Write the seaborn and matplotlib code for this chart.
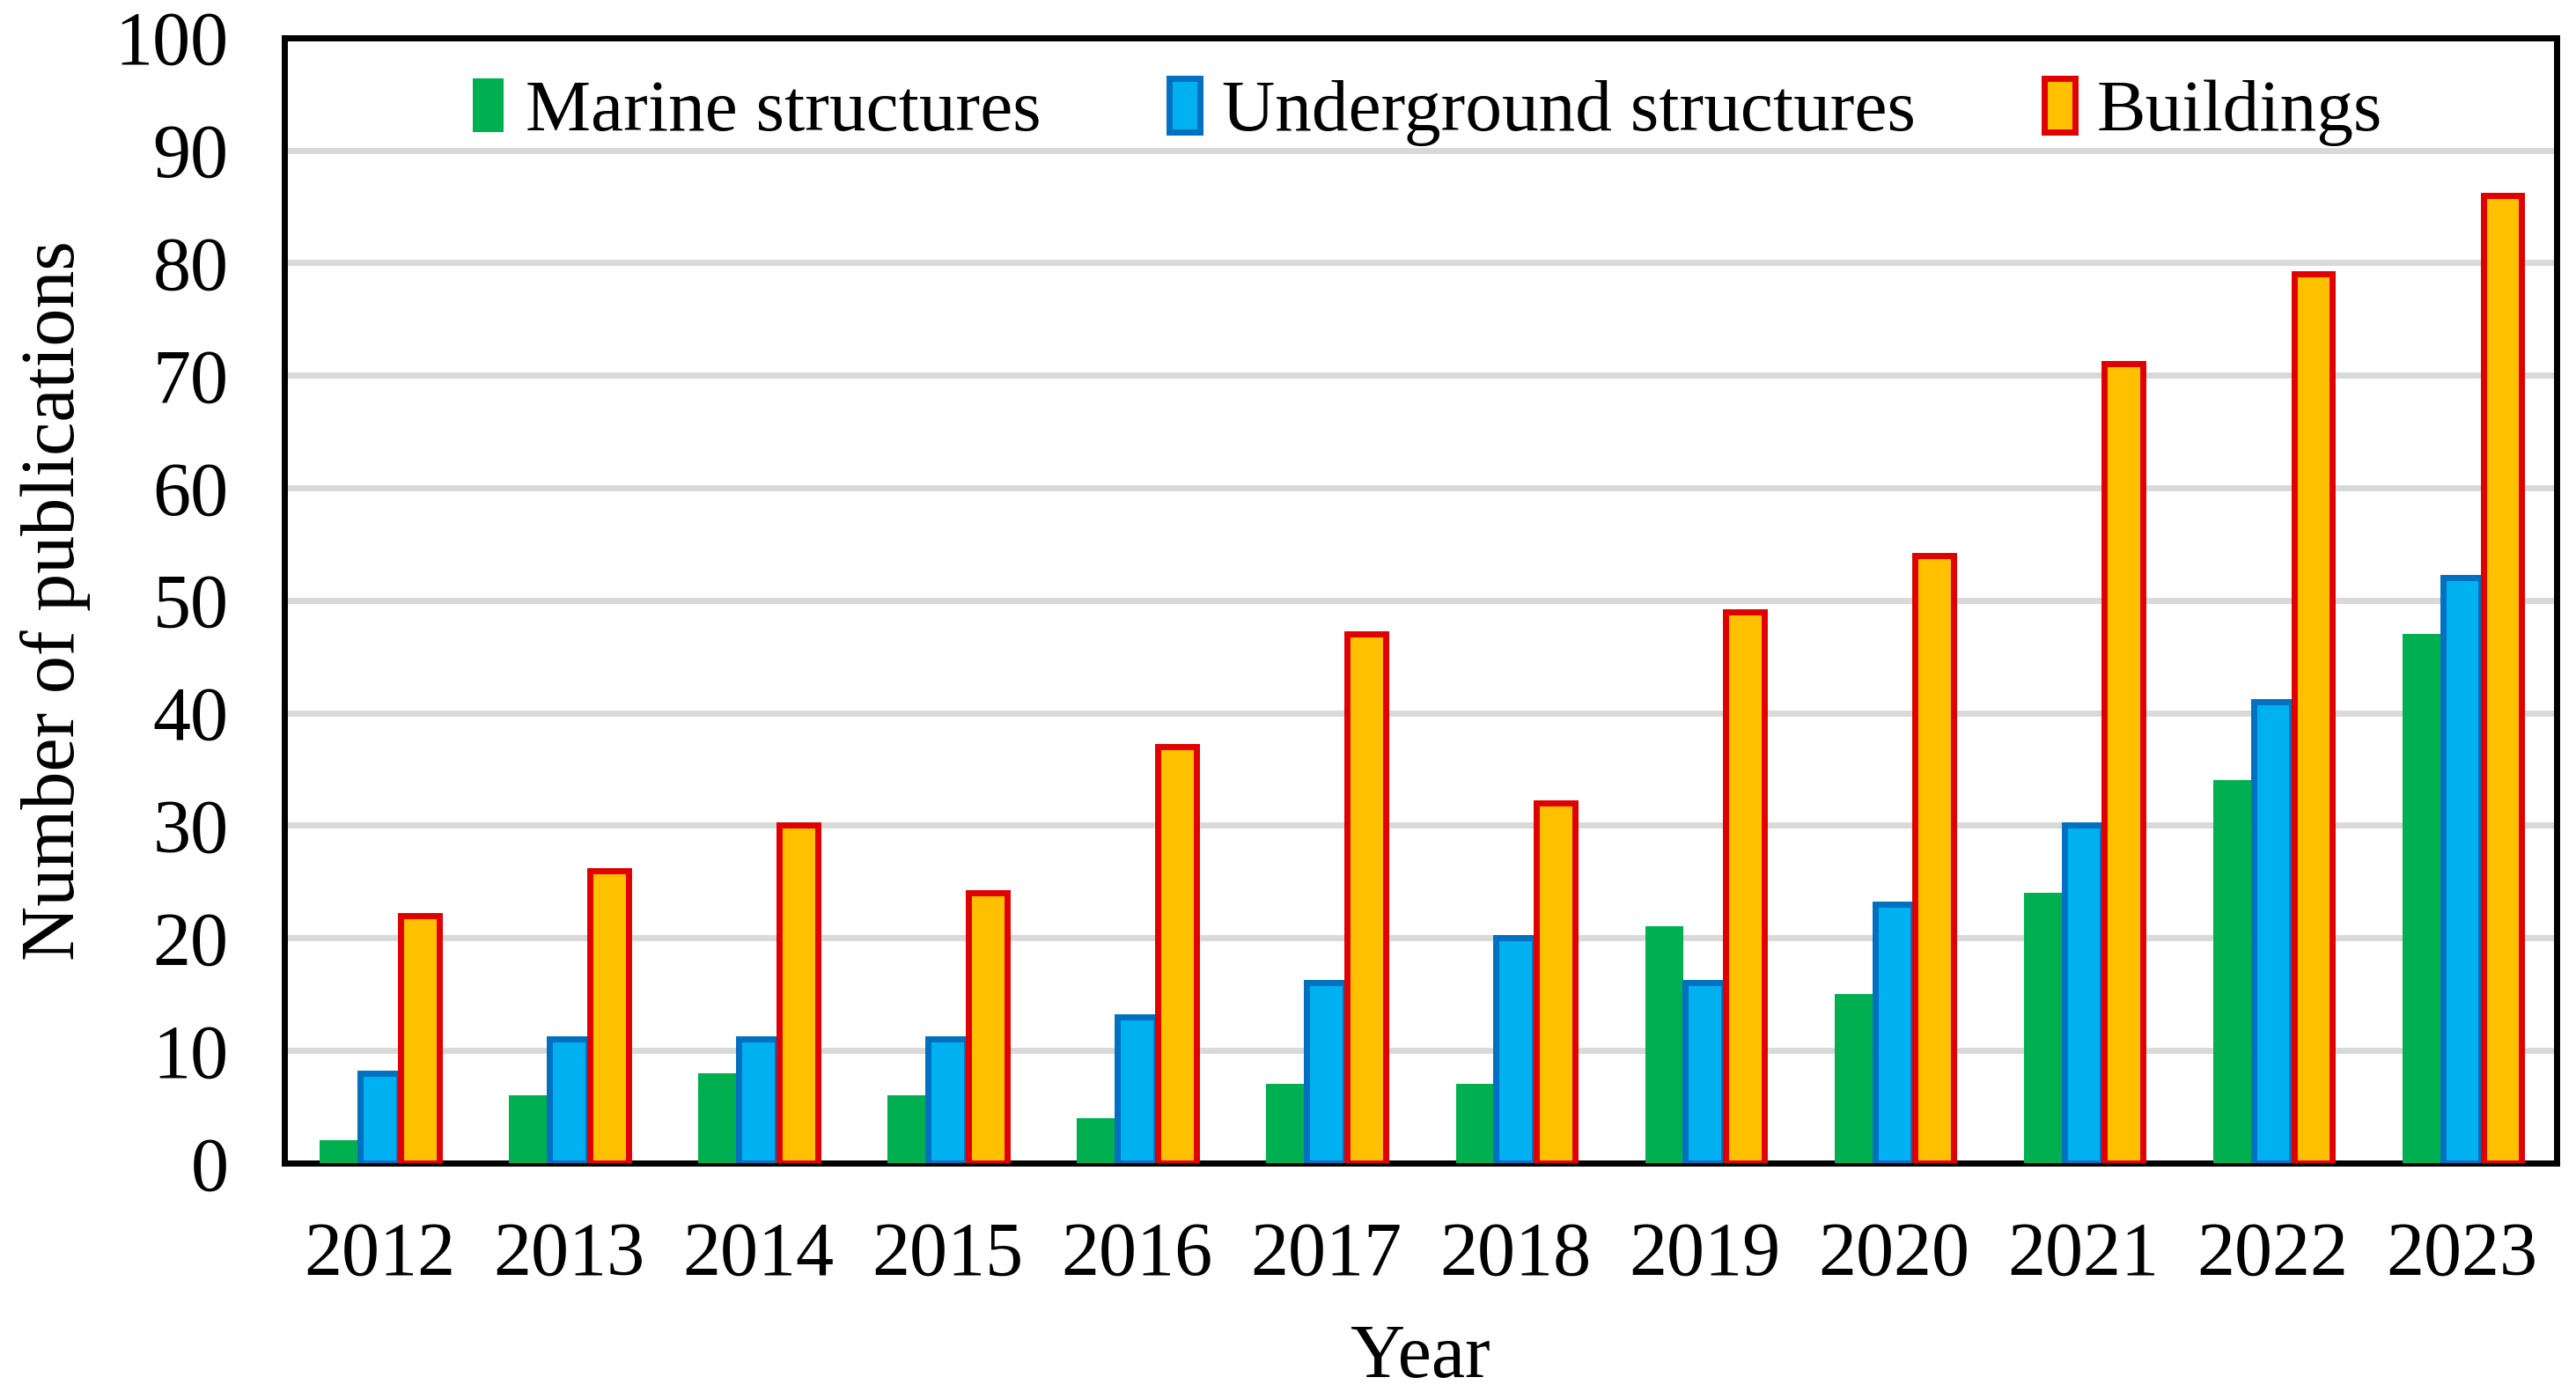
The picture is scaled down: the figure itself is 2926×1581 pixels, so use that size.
import numpy as np
import pandas as pd
import matplotlib
matplotlib.use('Agg')
import matplotlib.pyplot as plt
import seaborn as sns
from matplotlib.patches import Patch

years = ['2012', '2013', '2014', '2015', '2016', '2017', '2018', '2019', '2020', '2021', '2022', '2023']
marine = [2, 6, 8, 6, 4, 7, 7, 21, 15, 24, 34, 47]
underground = [8, 11, 11, 11, 13, 16, 20, 16, 23, 30, 41, 52]
buildings = [22, 26, 30, 24, 37, 47, 32, 49, 54, 71, 79, 86]
series = ['Marine structures', 'Underground structures', 'Buildings']

face = ['#00B050', '#00B0F0', '#FFC000']
edge = [None, '#0070C0', '#E00000']

data = pd.DataFrame({
    'Year': years * 3,
    'Count': marine + underground + buildings,
    'Type': [series[0]] * 12 + [series[1]] * 12 + [series[2]] * 12,
})

sns.set_style('white')
plt.rcParams['font.family'] = ['Liberation Serif', 'DejaVu Serif']
plt.rcParams['text.color'] = 'black'
plt.rcParams['axes.labelcolor'] = 'black'
plt.rcParams['xtick.color'] = 'black'
plt.rcParams['ytick.color'] = 'black'

fs = 62

fig = plt.figure(figsize=(29.26, 15.81), dpi=100)
ax = fig.add_axes([0.1105, 0.1645, 0.882, 0.8085])

sns.barplot(data=data, x='Year', y='Count', hue='Type', hue_order=series,
            palette=face, saturation=1, width=0.64, gap=0.05, ax=ax,
            legend=False, zorder=3)

for i, cont in enumerate(ax.containers):
    for bar in cont:
        if edge[i] is None:
            bar.set_linewidth(0)
        else:
            bar.set_edgecolor(edge[i])
            bar.set_linewidth(5)

ax.set_ylim(0, 100)
ax.set_xlim(-0.5, 11.5)
ax.set_yticks(range(0, 101, 10))
ax.yaxis.grid(True, color='#D9D9D9', linewidth=5, zorder=0)
ax.set_axisbelow(True)

# ticks between categories on x
ax.set_xticks(np.arange(0, 12))
ax.set_xticks(np.arange(0.5, 11.5, 1), minor=True)
ax.tick_params(axis='x', which='major', length=0, labelsize=fs, pad=48)
ax.tick_params(axis='x', which='minor', direction='in', length=15, width=4)
ax.tick_params(axis='y', direction='in', length=14, width=5, labelsize=fs, pad=46)

for s in ax.spines.values():
    s.set_linewidth(5)
    s.set_color('black')

ax.set_xlabel('Year', fontsize=fs, labelpad=26)
ax.set_ylabel('Number of publications', fontsize=fs, labelpad=20)

handles = [Patch(facecolor=face[i], edgecolor=edge[i] if edge[i] else face[i],
                 linewidth=5 if edge[i] else 0) for i in range(3)]
ax.legend(handles, series, loc='upper center', bbox_to_anchor=(0.503, 1.0), ncol=3,
          frameon=False, fontsize=60, handlelength=0.42, handleheight=0.75,
          handletextpad=0.3, columnspacing=1.75, borderaxespad=0.15)

fig.savefig('out.png', dpi=100)
